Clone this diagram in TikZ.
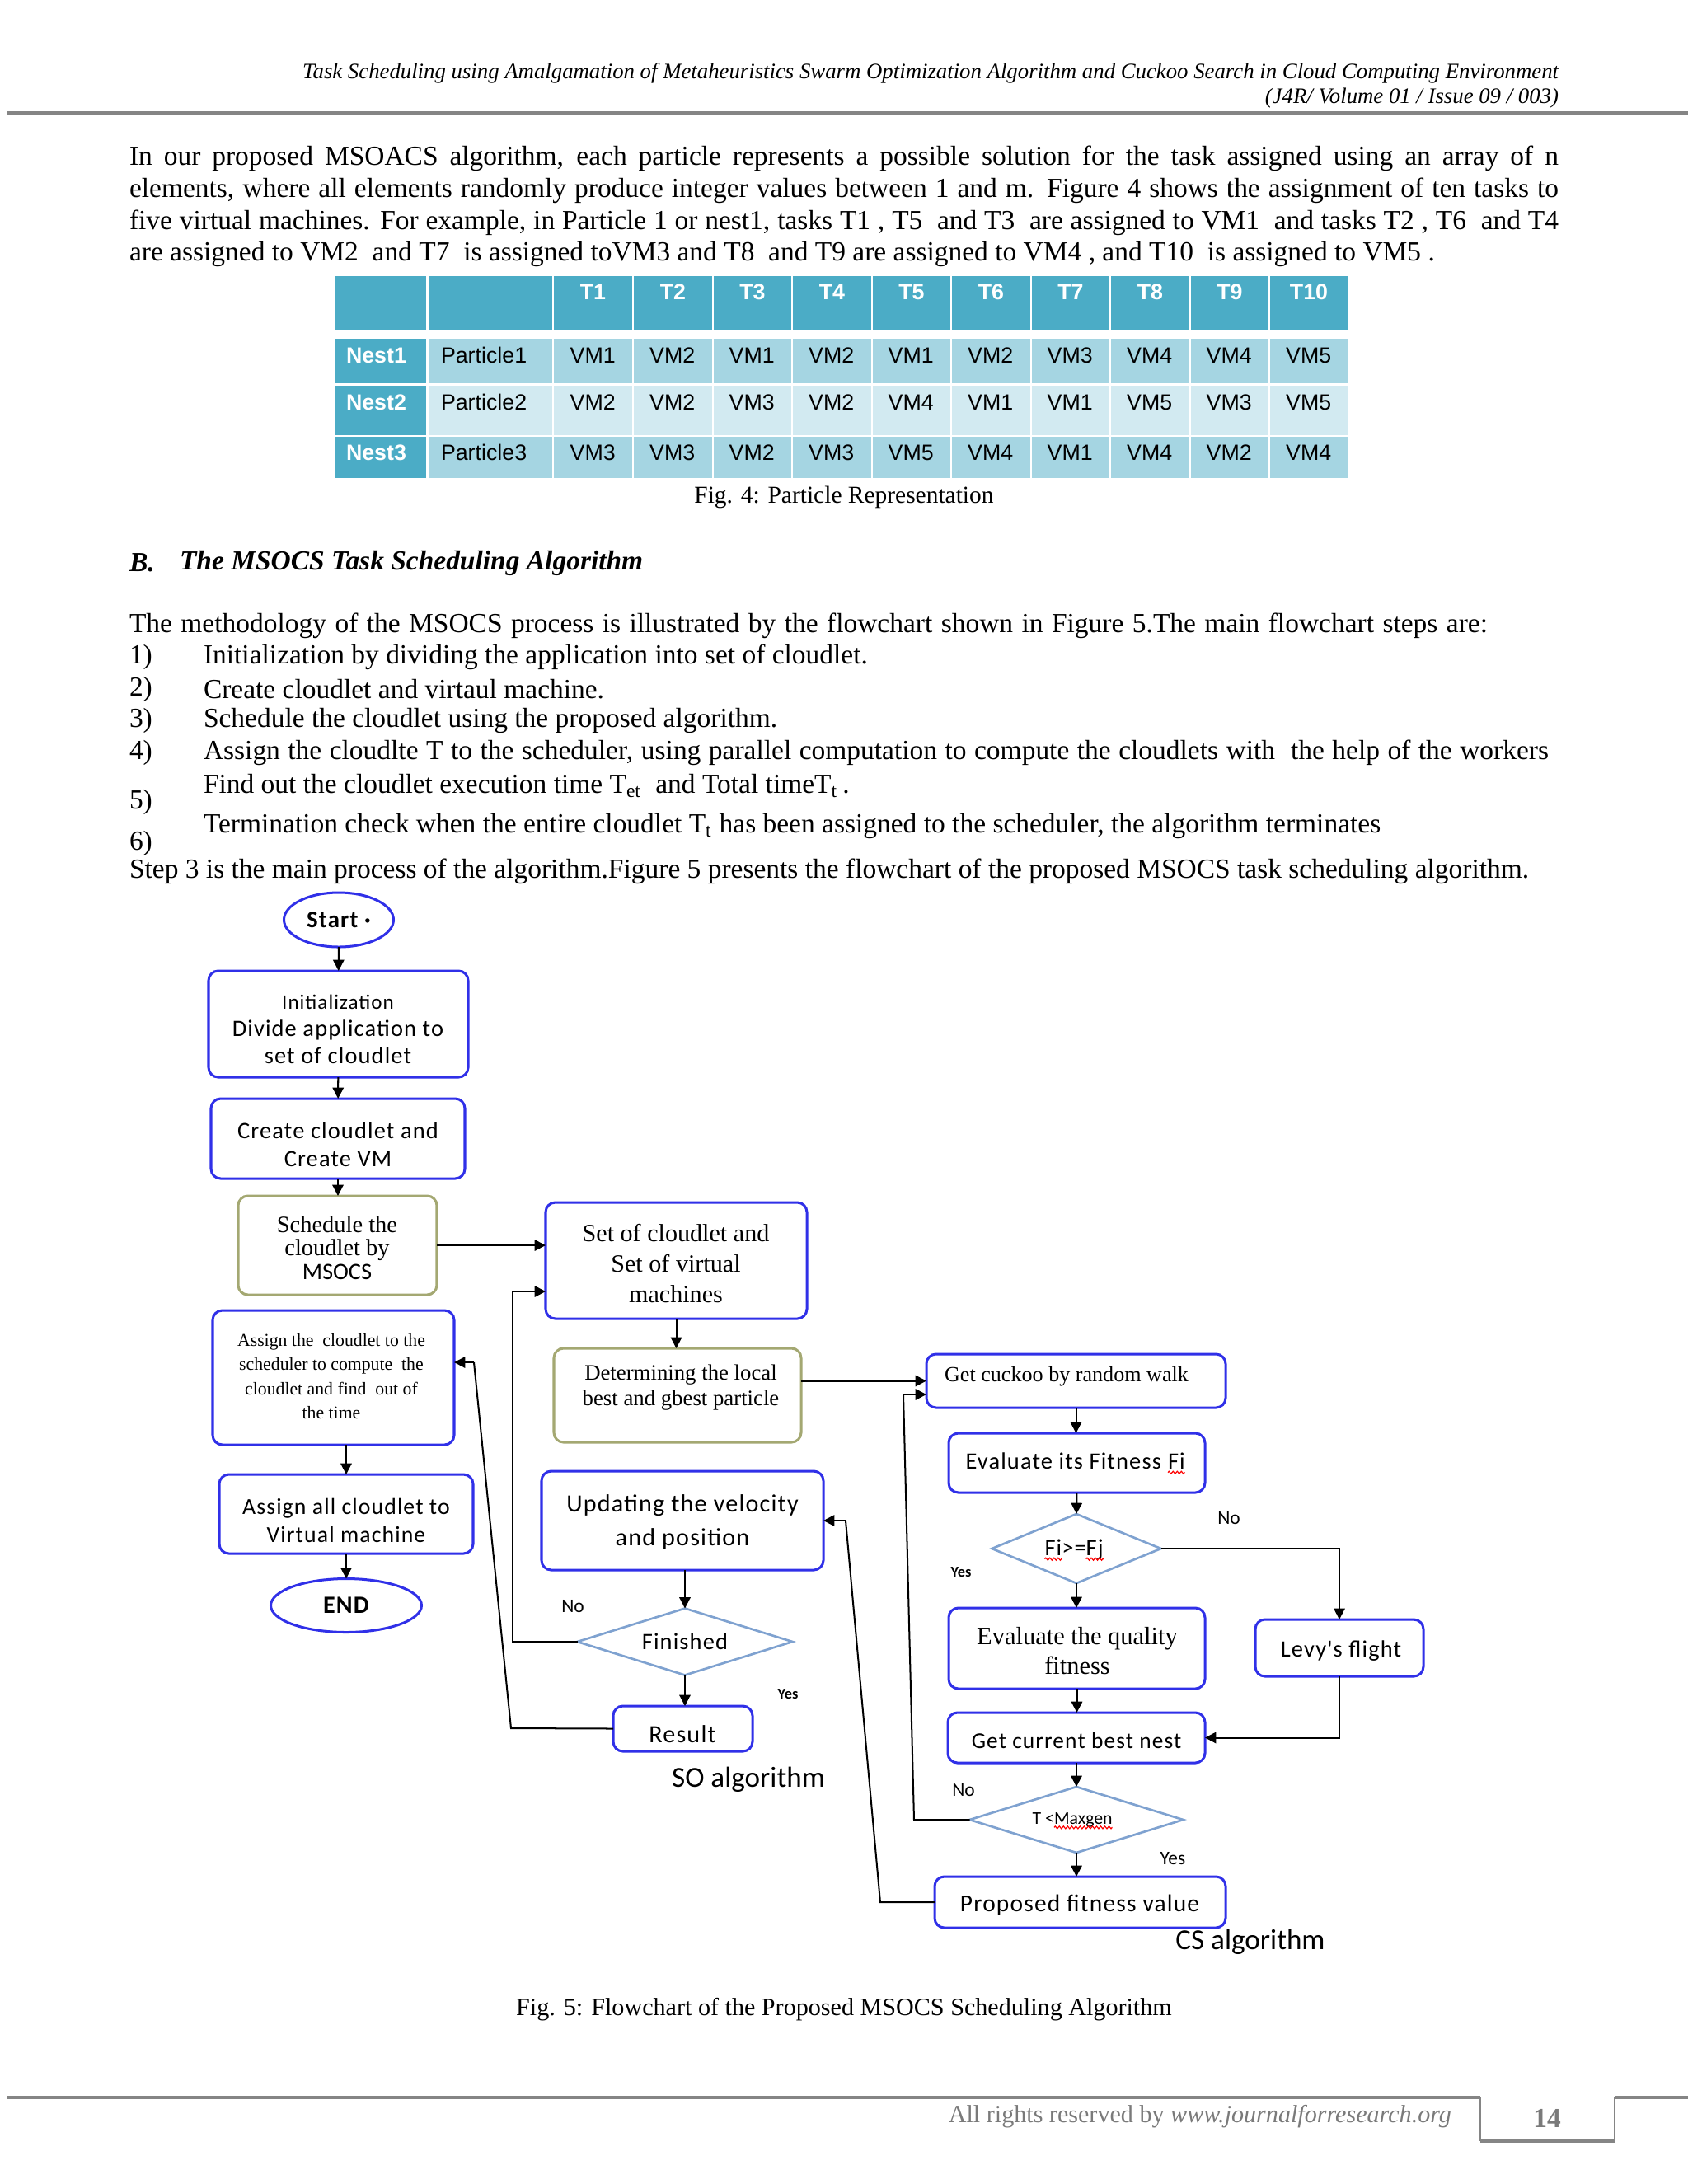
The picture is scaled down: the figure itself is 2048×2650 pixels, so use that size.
\documentclass[tikz,border=0pt]{standalone}
\usepackage{fontspec}
\setmainfont{Liberation Serif}
\newfontfamily\calib{Carlito}[LetterSpace=4]
\newfontfamily\calibn{Carlito}
\newfontfamily\arialf{Liberation Sans}
\usetikzlibrary{shapes.geometric,arrows.meta,fit,decorations.pathmorphing}
\newdimen\pxu \pxu=0.2988pt
\definecolor{bblue}{HTML}{3030E8}
\definecolor{oliveb}{HTML}{A4A872}
\definecolor{dblue}{HTML}{7FA2D0}
\definecolor{teal1}{HTML}{4BACC6}
\definecolor{lta}{HTML}{A5D5E2}
\definecolor{ltb}{HTML}{D2EAF1}
\definecolor{rulegray}{HTML}{858585}
\definecolor{footgray}{HTML}{7A7A7A}
\tikzset{
 box/.style={draw=bblue, line width=0.9pt, rounded corners=3.5pt},
 obox/.style={draw=oliveb, line width=0.9pt, rounded corners=3.5pt},
 dia/.style={diamond, draw=dblue, line width=0.8pt, align=center},
 oval/.style={ellipse, draw=bblue, line width=0.9pt},
 txt/.style={align=center},
 arr/.style={-{Triangle[length=4pt,width=4pt]}, line width=0.6pt, black},
 conn/.style={line width=0.6pt, black},
 wavy/.style={red, line width=0.35pt, decorate, decoration={zigzag, amplitude=0.45pt, segment length=1.5pt}},
 lab/.style={font=\calibn\fontsize{7}{8}\selectfont},
 labb/.style={font=\calibn\bfseries\fontsize{5.5}{6}\selectfont},
 hdr/.style={font=\arialf\bfseries\fontsize{8}{9}\selectfont, text=white},
 cell/.style={font=\arialf\fontsize{8}{9}\selectfont},
}
\begin{document}
\begin{tikzpicture}[x=0.2988pt,y=-0.2988pt, every node/.style={inner sep=0pt, outer sep=0pt}, font=\fontsize{10}{11.6}\selectfont]
\fill[white] (0,0) rectangle (2048,2650);
\useasboundingbox (0,0) rectangle (2048,2650);

% ---------- running header ----------
\node[anchor=east, font=\itshape\fontsize{8}{10}\selectfont] (h1) at (1891,89) {Task Scheduling using Amalgamation of Metaheuristics Swarm Optimization Algorithm and Cuckoo Search in Cloud Computing Environment};
\node[anchor=east, font=\itshape\fontsize{8}{10}\selectfont] (h2) at (1891,119) {(J4R/ Volume 01 / Issue 09 / 003)};
\draw[rulegray, line width=1.1pt] (8,137) -- (2048,137);

% ---------- first paragraph ----------
\node[anchor=west] (p1) at (157,192) {\hbox to 518.1pt{In our proposed MSOACS algorithm, each particle represents a possible solution for the task assigned using an array of n}};
\node[anchor=west] (p2) at (157,231) {\hbox to 518.1pt{elements, where all elements randomly produce integer values between 1 and m. Figure 4 shows the assignment of ten tasks to}};
\node[anchor=west] (p3) at (157,270) {\hbox to 518.1pt{five virtual machines. For example, in Particle 1 or nest1, tasks T1 , T5 \ and T3 \ are assigned to VM1 \ and tasks T2 , T6 \ and T4}};
\node[anchor=west] (p4) at (157,308) {are assigned to VM2 \ and T7 \ is assigned toVM3 and T8 \ and T9 are assigned to VM4 , and T10 \ is assigned to VM5 .};

% ---------- table ----------
\foreach \xa/\xb [count=\i] in {404.5/518.5,518.5/671,671/768,768/865,865/961,961/1058,1058/1154,1154/1251,1251/1347,1347/1444,1444/1540,1540/1636}{
  \fill[teal1] (\xa+1.2,335) rectangle (\xb-1.2,401);
  \ifnum\i=1
    \fill[teal1] (\xa+1.2,411) rectangle (\xb-1.2,465);
    \fill[teal1] (\xa+1.2,467.5) rectangle (\xb-1.2,527.5);
    \fill[teal1] (\xa+1.2,530) rectangle (\xb-1.2,580);
  \else
    \fill[lta] (\xa+1.2,411) rectangle (\xb-1.2,465);
    \fill[ltb] (\xa+1.2,467.5) rectangle (\xb-1.2,527.5);
    \fill[lta] (\xa+1.2,530) rectangle (\xb-1.2,580);
  \fi
}
\foreach \t/\cx [count=\i] in {T1/719.5,T2/816.5,T3/913,T4/1009.5,T5/1106,T6/1202.5,T7/1299,T8/1395.5,T9/1492,T10/1588}{
  \node[hdr] (th\i) at (\cx,354) {\t};
}
\foreach \ry/\r/\vals in {431/1/{VM1,VM2,VM1,VM2,VM1,VM2,VM3,VM4,VM4,VM5},488/2/{VM2,VM2,VM3,VM2,VM4,VM1,VM1,VM5,VM3,VM5},549/3/{VM3,VM3,VM2,VM3,VM5,VM4,VM1,VM4,VM2,VM4}}{
  \node[hdr, anchor=west] (nest\r) at (420,\ry) {Nest\r};
  \node[cell, anchor=west] (part\r) at (535,\ry) {Particle\r};
  \foreach \v [count=\j] in \vals {
    \pgfmathsetmacro{\cx}{671+96.5*(\j-0.5)}
    \node[cell] (c\r-\j) at (\cx,\ry) {\v};
  }
}
\node[font=\fontsize{8.8}{10}\selectfont] (cap4) at (1024,603) {Fig. 4: Particle Representation};

% ---------- section B ----------
\node[anchor=west, font=\bfseries\itshape\fontsize{10}{12}\selectfont] (secB) at (157,683) {B.};
\node[anchor=west, font=\bfseries\itshape\fontsize{10}{12}\selectfont] (secBt) at (218,683) {The MSOCS Task Scheduling Algorithm};
\node[anchor=west] (m0) at (157,759) {\hbox to 492.4pt{The methodology of the MSOCS process is illustrated by the flowchart shown in Figure 5.The main flowchart steps are:}};
\node[anchor=west] (n1) at (157,797) {1)};
\node[anchor=west] (i1) at (247,797) {Initialization by dividing the application into set of cloudlet.};
\node[anchor=west] (n2) at (157,836) {2)};
\node[anchor=west] (i2) at (247,836) {Create cloudlet and virtaul machine.};
\node[anchor=west] (n3) at (157,874) {3)};
\node[anchor=west] (i3) at (247,874) {Schedule the cloudlet using the proposed algorithm.};
\node[anchor=west] (n4) at (157,913) {4)};
\node[anchor=west] (i4) at (247,913) {\hbox to 487.6pt{Assign the cloudlte T to the scheduler, using parallel computation to compute the cloudlets with \ the help of the workers}};
\node[anchor=west] (i5) at (247,953) {Find out the cloudlet execution time T\textsubscript{et} \ and Total timeT\textsubscript{t}\,.};
\node[anchor=west] (n5) at (157,973) {5)};
\node[anchor=west] (i6) at (247,1002) {Termination check when the entire cloudlet T\textsubscript{t} has been assigned to the scheduler, the algorithm terminates};
\node[anchor=west] (n6) at (157,1023) {6)};
\node[anchor=west] (st3) at (157,1057) {Step 3 is the main process of the algorithm.Figure 5 presents the flowchart of the proposed MSOCS task scheduling algorithm.};

% ---------- flowchart: left column ----------
\node[oval, minimum width=133\pxu, minimum height=66\pxu, font=\calib\bfseries\fontsize{8.6}{10}\selectfont] (start) at (411,1116) {Start ·};
\node[box, fit={(253,1178) (568,1307)}] (init) {};
\node[txt, font=\calib\fontsize{8.5}{9.9}\selectfont] (initt) at (410,1249) {{\fontsize{7.5}{9.9}\selectfont Initialization}\\Divide application to\\set of cloudlet};
\node[box, fit={(256,1333) (564,1430)}] (create) {};
\node[txt, font=\calib\fontsize{8.5}{10.2}\selectfont] (createt) at (410,1389) {Create cloudlet and\\Create VM};
\node[obox, fit={(289,1451) (530,1571)}] (sched) {};
\node[txt, font=\fontsize{8.5}{8.6}\selectfont] (schedt) at (409,1514) {Schedule the\\cloudlet by\\{\calibn MSOCS}};
\node[box, fit={(258,1590) (551,1753)}] (assign) {};
\node[txt, font=\fontsize{6.5}{8.7}\selectfont] (assignt) at (402,1670) {Assign the \ cloudlet to the\\scheduler to compute \ the\\cloudlet and find \ out of\\the time};
\node[box, fit={(266,1789) (574,1885)}] (assignall) {};
\node[txt, font=\calib\fontsize{8.3}{10}\selectfont] (assignallt) at (420,1845) {Assign all cloudlet to\\Virtual machine};
\node[oval, minimum width=183\pxu, minimum height=65\pxu, font=\calib\bfseries\fontsize{9}{10}\selectfont] (endn) at (420,1948) {END};

% ---------- flowchart: middle column ----------
\node[box, fit={(662,1459) (979,1600)}] (setc) {};
\node[txt, font=\fontsize{9}{11.2}\selectfont] (setct) at (820,1533) {Set of cloudlet and\\Set of virtual\\machines};
\node[obox, fit={(672,1636) (972,1750)}] (det) {};
\node[txt, font=\fontsize{8}{9.3}\selectfont] (dett) at (826,1684) {Determining the local\\best and gbest particle};
\node[box, fit={(657,1785) (999,1905)}] (upd) {};
\node[txt, font=\calib\fontsize{9}{12.3}\selectfont] (updt) at (828,1847) {Updating the velocity\\and position};
\node[dia, minimum width=261\pxu, minimum height=81\pxu] (fin) at (831,1992) {};
\node[font=\calib\fontsize{8.5}{10}\selectfont] (fint) at (831,1992) {Finished};
\node[box, fit={(744,2070) (913,2125)}] (res) {};
\node[font=\calib\fontsize{9}{10}\selectfont] (rest) at (828,2104) {Result};
\node[font=\calibn\fontsize{10.5}{12}\selectfont] (so) at (908,2159) {SO algorithm};
\node[lab] (no1) at (695,1949) {No};
\node[labb] (yes1) at (956,2056) {Yes};

% ---------- flowchart: right column ----------
\node[box, fit={(1124,1643) (1487,1708)}] (cuckoo) {};
\node[font=\fontsize{7.8}{9}\selectfont] (cuckoot) at (1294,1670) {Get cuckoo by random walk};
\node[box, fit={(1151,1739) (1462,1811)}] (evalf) {};
\node[anchor=base west, font=\calib\fontsize{8.5}{10}\selectfont] (evfi) at (1417,1782) {Fi};
\node[anchor=base east, font=\calib\fontsize{8.5}{10}\selectfont] (evtx) at ([xshift=-2.4pt]evfi.base west) {Evaluate its Fitness};
\draw[wavy] ([yshift=-1.4pt]evfi.base west) -- ([yshift=-1.4pt]evfi.base east);
\node[dia, minimum width=205\pxu, minimum height=84\pxu] (dia1) at (1306,1879) {};
\node[anchor=base, font=\calib\fontsize{8.5}{10}\selectfont] (dge) at (1303,1887) {>=};
\node[anchor=base east, font=\calib\fontsize{8.5}{10}\selectfont] (dfi) at (dge.base west) {Fi};
\node[anchor=base west, font=\calib\fontsize{8.5}{10}\selectfont] (dfj) at (dge.base east) {Fj};
\draw[wavy] ([yshift=-1.4pt]dfi.base west) -- ([yshift=-1.4pt]dfi.base east);
\draw[wavy] ([yshift=-1.4pt]dfj.base west) -- ([yshift=-1.4pt]dfj.base east);
\node[box, fit={(1151,1951) (1462,2049)}] (evq) {};
\node[txt, font=\fontsize{9.1}{11}\selectfont] (evqt) at (1307,2003) {Evaluate the quality\\fitness};
\node[box, fit={(1523,1965) (1727,2034)}] (levy) {};
\node[font=\calib\fontsize{8.5}{10}\selectfont] (levyt) at (1627,2003) {Levy's flight};
\node[box, fit={(1150,2078) (1462,2139)}] (gcb) {};
\node[font=\calib\fontsize{8.2}{10}\selectfont] (gcbt) at (1306,2112) {Get current best nest};
\node[dia, minimum width=259\pxu, minimum height=80\pxu] (dia2) at (1306,2208) {};
\node[anchor=base west, font=\calibn\fontsize{6.5}{8}\selectfont] (dmx) at (1279,2213) {Maxgen};
\node[anchor=base east, font=\calibn\fontsize{6.5}{8}\selectfont] (dtl) at (dmx.base west) {T <};
\draw[wavy] ([yshift=-1.3pt]dmx.base west) -- ([yshift=-1.3pt]dmx.base east);
\node[box, fit={(1134,2277) (1487,2339)}] (prop) {};
\node[font=\calib\fontsize{8.8}{10}\selectfont] (propt) at (1310,2312) {Proposed fitness value};
\node[font=\calibn\fontsize{10.5}{12}\selectfont] (cs) at (1517,2356) {CS algorithm};
\node[lab] (no2) at (1491,1842) {No};
\node[labb] (yes2) at (1166,1908) {Yes};
\node[lab] (no3) at (1169,2172) {No};
\node[lab] (yes3) at (1423,2255) {Yes};

% ---------- helper coordinates ----------
\coordinate (la) at (622,1567);
\coordinate (lb1) at (620,2097);
\coordinate (lb2) at (575,1653);
\coordinate (lc1) at (1109,2208);
\coordinate (lc2) at (1096,1692);
\coordinate (ld1) at (1068,2308);
\coordinate (ld2) at (1026,1845);

% ---------- connectors ----------
\draw[arr] (start) -- (init);
\draw[arr] (init) -- (create);
\draw[arr] (create.south) -- (create.south |- sched.north);
\draw[arr] (sched.east) -- (setc.west |- sched.east);
\draw[arr] (assignall.north |- assign.south) -- (assignall.north);
\draw[arr] (assignall.south) -- (endn.north);
\draw[arr] (setc.south) -- (setc.south |- det.north);
\draw[arr] (det.east |- cuckoo.west) -- (cuckoo.west);
\draw[arr] (fin.north |- upd.south) -- (fin.north);
\draw[arr] (fin.south) -- (fin.south |- res.north);
\draw[conn] (fin.west) -| (la);
\draw[arr] (la) -- (setc.west |- la);
\draw[conn] (res.west) -- (lb1) -- (lb2);
\draw[arr] (lb2) -- (assign.east |- lb2);
\draw[arr] (cuckoo.south) -- (cuckoo.south |- evalf.north);
\draw[arr] (evalf.south) -- (dia1.north);
\draw[arr] (dia1.south) -- (evq.north -| dia1.south);
\draw[arr] (dia1.east) -| (levy.north);
\draw[arr] (evq.south) -- (gcb.north -| evq.south);
\draw[arr] (levy.south) |- (gcb.east);
\draw[arr] (gcb.south) -- (dia2.north);
\draw[arr] (dia2.south) -- (prop.north -| dia2.south);
\draw[conn] (dia2.west) -- (lc1) -- (lc2);
\draw[arr] (lc2) -- (cuckoo.west |- lc2);
\draw[conn] (prop.west) -- (ld1) -- (ld2);
\draw[arr] (ld2) -- (upd.east |- ld2);

\node[font=\fontsize{9}{10}\selectfont] (cap5) at (1024,2438) {Fig. 5: Flowchart of the Proposed MSOCS Scheduling Algorithm};

% ---------- footer ----------
\draw[rulegray, line width=1.1pt] (8,2545) -- (1796,2545);
\draw[rulegray, line width=1.1pt] (1959,2545) -- (2048,2545);
\draw[rulegray, line width=0.5pt] (1796,2545) -- (1796,2598);
\draw[rulegray, line width=0.5pt] (1959,2545) -- (1959,2598);
\draw[rulegray, line width=1.1pt] (1796,2598) -- (1959,2598);
\node[anchor=east, text=footgray, font=\fontsize{9}{10}\selectfont] (foot) at (1761,2568) {All rights reserved by \textit{www.journalforresearch.org}};
\node[text=footgray, font=\bfseries\fontsize{10}{11}\selectfont] (pg) at (1877,2570) {14};
\end{tikzpicture}
\end{document}
